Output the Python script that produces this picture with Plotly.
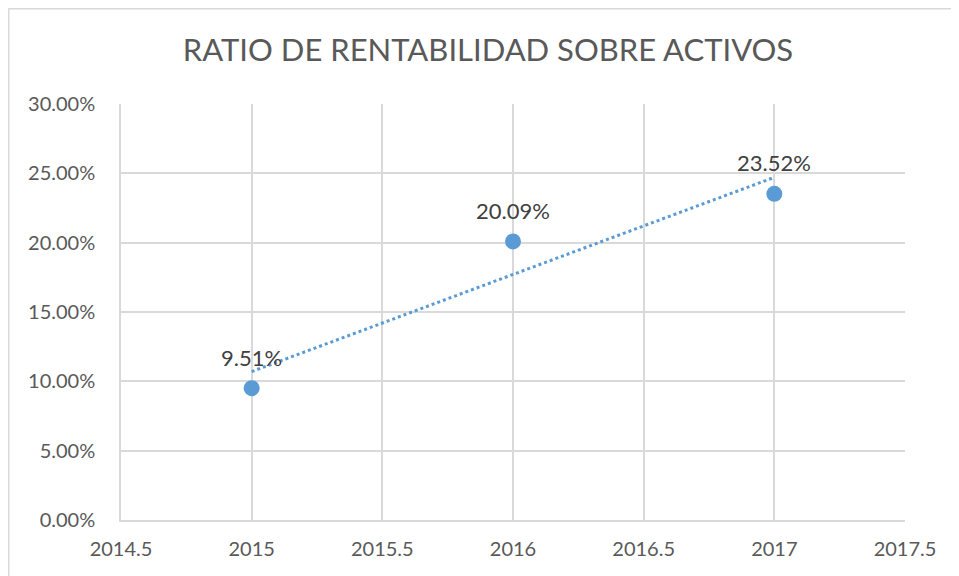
import numpy as np
import plotly.graph_objects as go

years = [2015, 2016, 2017]
roa = [0.0951, 0.2009, 0.2352]
labels = ["9.51%", "20.09%", "23.52%"]
title = "RATIO DE RENTABILIDAD SOBRE ACTIVOS"
x_ticks = [2014.5, 2015, 2015.5, 2016, 2016.5, 2017, 2017.5]
x_ticktext = ["2014.5", "2015", "2015.5", "2016", "2016.5", "2017", "2017.5"]
y_ticks = [0, 0.05, 0.10, 0.15, 0.20, 0.25, 0.30]

blue = "#5B9BD5"
grid = "#D9D9D9"
font = "Lato"

slope, intercept = np.polyfit(years, roa, 1)
trend_x = [years[0], years[-1]]
trend_y = [slope * x + intercept for x in trend_x]

fig = go.Figure()
fig.add_trace(go.Scatter(x=trend_x, y=trend_y, mode="lines",
                         line=dict(color=blue, width=3, dash="dot"),
                         hoverinfo="skip", showlegend=False))
fig.add_trace(go.Scatter(x=years, y=roa, mode="markers",
                         marker=dict(color=blue, size=16),
                         showlegend=False))
for x, y, t in zip(years, roa, labels):
    fig.add_annotation(x=x, y=y, text=t, showarrow=False, yshift=31,
                       font=dict(family=font, size=22, color="#404040"))

# page offset of 8px (browser body margin)
W, H = 951, 568
L, T = 113, 96
pw, ph = 784, 416
R, B = W - L - pw, H - T - ph
bx = (0.5 - L) / pw
by = 1 + (T - 0.5) / ph
fig.add_shape(type="line", xref="paper", yref="paper", x0=bx, x1=bx, y0=-0.5, y1=by,
              line=dict(color=grid, width=2))
fig.add_shape(type="line", xref="paper", yref="paper", x0=bx, x1=1.5, y0=by, y1=by,
              line=dict(color=grid, width=2))

fig.update_layout(
    width=W, height=H,
    margin=dict(l=L, r=R, t=T, b=B),
    paper_bgcolor="white", plot_bgcolor="white",
    title=dict(text=title, x=(488 - 8 - L) / pw, xref="paper", xanchor="center",
               y=1 - 42 / H, yanchor="middle",
               font=dict(family=font, size=31, color="#595959")),
    font=dict(family=font, color="#595959"),
    xaxis=dict(range=[2014.5, 2017.5], tickvals=x_ticks, ticktext=x_ticktext,
               showgrid=True, gridcolor=grid, gridwidth=1.5, zeroline=False,
               showline=True, linecolor=grid, linewidth=1.5, ticks="",
               ticklabelstandoff=10,
               tickfont=dict(family=font, size=20, color="#595959")),
    yaxis=dict(range=[0, 0.30], tickvals=y_ticks, tickformat=".2%",
               showgrid=True, gridcolor=grid, gridwidth=1.5, zeroline=False,
               showline=True, linecolor=grid, linewidth=1.5, ticks="",
               ticklabelstandoff=20,
               tickfont=dict(family=font, size=20, color="#595959")),
)
fig.write_html("out.html")
